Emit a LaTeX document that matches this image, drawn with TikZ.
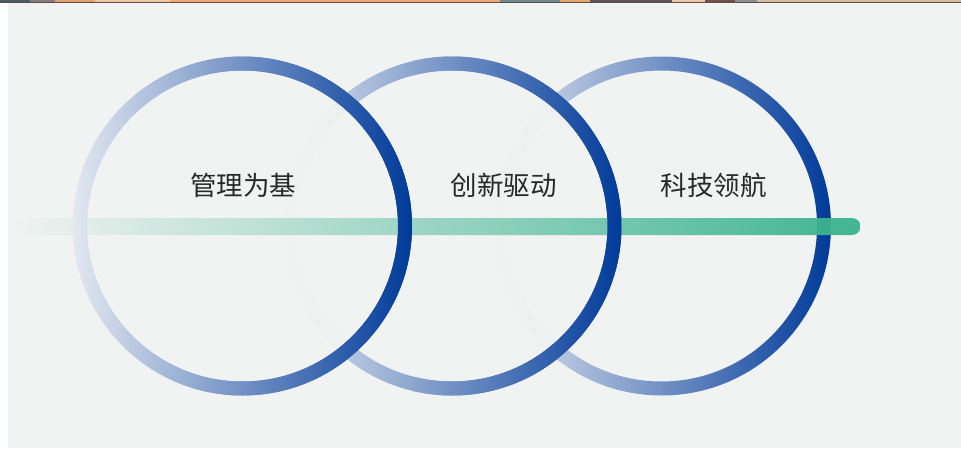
\documentclass[tikz,border=0pt]{standalone}
\usepackage{fontspec}
\newfontfamily\cjk{Noto Sans CJK SC}
\definecolor{bg}{HTML}{F1F3F2}
\definecolor{ringL}{HTML}{E3E8F0}
\definecolor{ringM}{HTML}{829DC9}
\definecolor{ringR}{HTML}{003A99}
\definecolor{lineR}{HTML}{37B28B}
\definecolor{txt}{HTML}{282828}
\definecolor{sa}{HTML}{4A5A66}
\definecolor{sb}{HTML}{8A7A80}
\definecolor{sc}{HTML}{E8A070}
\definecolor{sd}{HTML}{F0C8A0}
\definecolor{se}{HTML}{F0A870}
\definecolor{sf}{HTML}{708890}
\definecolor{sg}{HTML}{E8A868}
\definecolor{sh}{HTML}{605058}
\definecolor{si}{HTML}{F0C8A8}
\definecolor{sj}{HTML}{705048}
\definecolor{sk}{HTML}{8A9098}
\definecolor{sl}{HTML}{D8B8A0}
\definecolor{sm}{HTML}{5A504A}
\begin{document}
\begin{tikzpicture}[x=1pt,y=-1pt,
  ring/.style={left color=ringL, middle color=ringM, right color=ringR, even odd rule},
  disc/.style={fill=bg, fill opacity=0.96},
  label/.style={font=\cjk\fontsize{26.5}{26.5}\selectfont, text=txt, inner sep=0pt}]
\useasboundingbox (0,0) rectangle (961,448);
% page background
\fill[white] (0,0) rectangle (961,448);
\fill[bg] (8,3) rectangle (961,448);
% top screenshot strip
\fill[sa] (0,0) rectangle (30,2);
\fill[sb] (30,0) rectangle (55,2);
\fill[sc] (55,0) rectangle (95,2);
\fill[sd] (95,0) rectangle (170,2);
\fill[se] (170,0) rectangle (500,2);
\fill[sf] (500,0) rectangle (560,2);
\fill[sg] (560,0) rectangle (590,2);
\fill[sh] (590,0) rectangle (672,2);
\fill[si] (672,0) rectangle (705,2);
\fill[sj] (705,0) rectangle (735,2);
\fill[sk] (735,0) rectangle (757,2);
\fill[sl] (757,0) rectangle (961,2);
\fill[sm] (0,2) rectangle (961,3);
% circle centres
\coordinate (c1) at (242.5,226);
\coordinate (c2) at (452,226);
\coordinate (c3) at (661.5,226);
% circles, right to left so each covers the next one's left part
\fill[disc] (c3) circle[radius=169.5pt];
\shade[ring] (c3) circle[radius=169.5pt] (c3) circle[radius=155.5pt];
\fill[disc] (c2) circle[radius=169.5pt];
\shade[ring] (c2) circle[radius=169.5pt] (c2) circle[radius=155.5pt];
\fill[disc] (c1) circle[radius=169.5pt];
\shade[ring] (c1) circle[radius=169.5pt] (c1) circle[radius=155.5pt];
% green bar
\coordinate (b0) at (8,226.5);
\coordinate (b1) at (852,226.5);
\shade[left color=bg, right color=lineR, fill opacity=0.94]
  ([yshift=8.5pt]b0) -- ([yshift=8.5pt]b1) arc[start angle=90, end angle=-90, radius=8.5pt]
  -- ([yshift=-8.5pt]b0) -- cycle;
% rings 1 and 2 over the bar
\shade[ring] (c1) circle[radius=169.5pt] (c1) circle[radius=155.5pt];
\begin{scope}
  \clip (413,0) rectangle (961,448);
  \shade[ring] (c2) circle[radius=169.5pt] (c2) circle[radius=155.5pt];
\end{scope}
% labels
\node[label] (t1) at (243,185) {管理为基};
\node[label] (t2) at (503.5,185) {创新驱动};
\node[label] (t3) at (713.5,185) {科技领航};
\end{tikzpicture}
\end{document}
